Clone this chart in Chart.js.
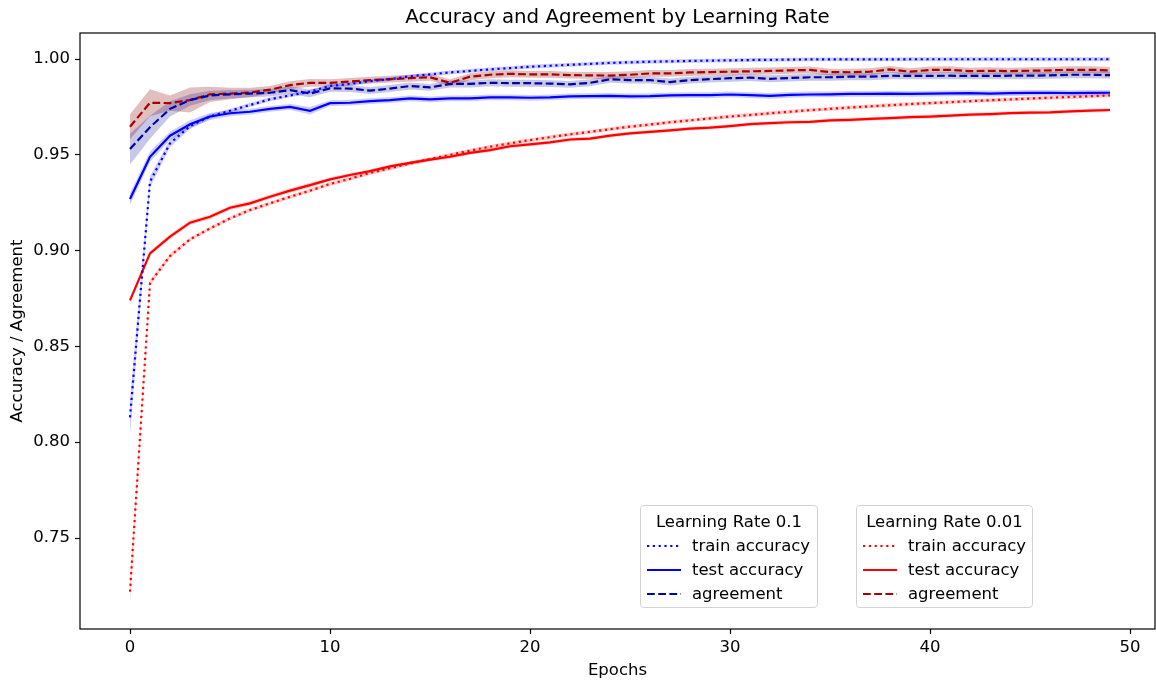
<!DOCTYPE html>
<html>
<head>
<meta charset="utf-8">
<script src="https://cdn.jsdelivr.net/npm/chart.js@4.4.1/dist/chart.umd.min.js"></script>
<style>
  body { margin: 0; background: #fff; font-family: "DejaVu Sans", sans-serif; }
  #wrap { position: relative; width: 1156px; height: 686px; }
  #title { position: absolute; left: 80px; width: 1075px; top: 6px; text-align: center; font-size: 19.8px; line-height: 22px; color: #000; }
  .lgbox { position: absolute; border: 1px solid #d3d3d3; border-radius: 4px; background: rgba(255,255,255,0.8); }
  .lgtitle { position: absolute; left: 0; right: 0; text-align: center; font-size: 16.5px; line-height: 20px; }
  .lgrow { position: absolute; font-size: 16.5px; line-height: 20px; white-space: nowrap; }
  .lgrow svg { position: absolute; }
</style>
</head>
<body>
<div id="wrap">
  <canvas id="accChart" width="1156" height="686"></canvas>
  <div id="title">Accuracy and Agreement by Learning Rate</div>
</div>
<script>
// x values and tick labels
const epochs = [0,1,2,3,4,5,6,7,8,9,10,11,12,13,14,15,16,17,18,19,20,21,22,23,24,25,26,27,28,29,30,31,32,33,34,35,36,37,38,39,40,41,42,43,44,45,46,47,48,49];
const xTicks = [0, 10, 20, 30, 40, 50];
const yTicks = [0.75, 0.80, 0.85, 0.90, 0.95, 1.00];

// learning rate 0.1
const lr01Train = [0.813,0.936,0.956,0.965,0.970,0.973,0.976,0.979,0.981,0.983,0.986,0.987,0.9885,0.9895,0.991,0.992,0.993,0.9938,0.9946,0.9953,
  0.996,0.9965,0.997,0.9975,0.998,0.9983,0.9986,0.9988,0.999,0.9992,0.9993,0.9995,0.9996,0.9997,0.9998,0.9998,0.9998,0.9998,0.9998,0.9999,
  0.9999,0.9999,0.9999,0.9999,0.9999,0.9999,0.9999,0.9999,0.9999,0.9999];
const lr01Test = [0.927,0.949,0.960,0.966,0.970,0.9717,0.9725,0.974,0.975,0.973,0.977,0.9772,0.978,0.9786,0.9795,0.979,0.9795,0.9795,0.980,0.980,
  0.9798,0.980,0.9805,0.9806,0.9808,0.9805,0.9806,0.981,0.9812,0.9812,0.9815,0.9812,0.9808,0.9813,0.9815,0.9816,0.9818,0.9818,0.982,0.9818,
  0.982,0.9821,0.9822,0.982,0.9822,0.9823,0.9824,0.9822,0.9823,0.9824];
const lr01Agree = [0.953,0.9644,0.974,0.9786,0.981,0.9816,0.982,0.9824,0.9838,0.982,0.9847,0.9846,0.9835,0.9846,0.9859,0.9852,0.987,0.987,0.9876,0.9874,
  0.9874,0.9872,0.9868,0.9876,0.9894,0.989,0.989,0.988,0.989,0.9895,0.990,0.9903,0.9897,0.9901,0.9905,0.9905,0.9908,0.9908,0.9913,0.9912,
  0.9912,0.9913,0.9912,0.9912,0.9913,0.9913,0.9915,0.9918,0.9918,0.9916];

// learning rate 0.01
const lr001Train = [0.722,0.8832,0.8972,0.9059,0.9116,0.9168,0.9212,0.9247,0.9281,0.9313,0.9348,0.9375,0.9405,0.943,0.9455,0.9478,0.950,0.9522,0.9542,0.956,
  0.9577,0.9592,0.9607,0.962,0.9634,0.9647,0.9658,0.967,0.968,0.969,0.970,0.9708,0.9717,0.9725,0.9733,0.974,0.9747,0.9753,0.9759,0.9765,
  0.977,0.9775,0.978,0.9785,0.9789,0.9794,0.9798,0.9802,0.9806,0.981];
const lr001Test = [0.874,0.8986,0.9073,0.9146,0.9177,0.9224,0.9247,0.9281,0.9313,0.9342,0.9372,0.9395,0.9415,0.944,0.9458,0.9475,0.949,0.951,0.9525,0.9545,
  0.9555,0.9565,0.958,0.9585,0.960,0.9612,0.962,0.9628,0.9637,0.9642,0.965,0.966,0.9666,0.967,0.9672,0.968,0.9683,0.9688,0.9692,0.9697,
  0.970,0.9705,0.971,0.9713,0.9718,0.972,0.9722,0.9727,0.9731,0.9734];
const lr001Agree = [0.9647,0.9772,0.977,0.9786,0.9816,0.982,0.9825,0.984,0.9864,0.9876,0.9876,0.9883,0.989,0.9895,0.990,0.9905,0.9876,0.9908,0.9918,0.9923,
  0.992,0.992,0.9916,0.9915,0.9914,0.9918,0.9925,0.9925,0.993,0.9932,0.9934,0.9936,0.9938,0.9941,0.9943,0.9932,0.9931,0.9934,0.9946,0.9934,
  0.9943,0.9944,0.9937,0.9939,0.9937,0.9939,0.9941,0.9944,0.9944,0.9941];

// half width of the shaded bands
const lr01TrainSd = [0.009,0.003,0.002,0.0015,0.0012,0.001,0.001,0.001,0.001,0.001,0.001,0.001,0.001,0.001,0.001,0.001,0.001,0.001,0.001,0.001,
  0.001,0.001,0.001,0.001,0.001,0.001,0.001,0.001,0.001,0.001,0.001,0.001,0.001,0.001,0.001,0.001,0.001,0.001,0.001,0.001,
  0.001,0.001,0.001,0.001,0.001,0.001,0.001,0.001,0.001,0.001];
const lr01TestSd = [0.003,0.0028,0.0022,0.002,0.0018,0.0016,0.0015,0.0015,0.0015,0.002,0.0015,0.0015,0.0015,0.0015,0.0015,0.0015,0.0015,0.0015,0.0015,0.0015,
  0.0015,0.0015,0.0015,0.0015,0.0015,0.0015,0.0015,0.0015,0.0015,0.0015,0.0015,0.0015,0.0015,0.0015,0.0015,0.0015,0.0015,0.0015,0.0015,0.0015,
  0.0015,0.0015,0.0015,0.0015,0.0015,0.0015,0.0015,0.0015,0.0015,0.0015];
const lr01AgreeSd = [0.008,0.006,0.004,0.003,0.0025,0.0022,0.002,0.002,0.002,0.002,0.0018,0.0018,0.0018,0.0018,0.0018,0.0018,0.0018,0.0018,0.0018,0.0018,
  0.0018,0.0018,0.0018,0.0018,0.0018,0.0018,0.0018,0.0018,0.0018,0.0018,0.0018,0.0018,0.0018,0.0018,0.0018,0.0018,0.0018,0.0018,0.0018,0.0018,
  0.0018,0.0018,0.0018,0.0018,0.0018,0.0018,0.0018,0.0018,0.0018,0.0018];
const lr001TrainSd = [0.006,0.0015,0.0012,0.001,0.001,0.001,0.001,0.001,0.001,0.001,0.001,0.001,0.001,0.001,0.001,0.001,0.001,0.001,0.001,0.001,
  0.001,0.001,0.001,0.001,0.001,0.001,0.001,0.001,0.001,0.001,0.001,0.001,0.001,0.001,0.001,0.001,0.001,0.001,0.001,0.001,
  0.001,0.001,0.001,0.001,0.001,0.001,0.001,0.001,0.001,0.001];
const lr001TestSd = [0.0012,0.0012,0.0012,0.0012,0.0012,0.0012,0.0012,0.0012,0.0012,0.0012,0.001,0.001,0.001,0.001,0.001,0.001,0.001,0.001,0.001,0.001,
  0.001,0.001,0.001,0.001,0.001,0.001,0.001,0.001,0.001,0.001,0.001,0.001,0.001,0.001,0.001,0.001,0.001,0.001,0.001,0.001,
  0.001,0.001,0.001,0.001,0.001,0.001,0.001,0.001,0.001,0.001];
const lr001AgreeSd = [0.0065,0.007,0.004,0.0065,0.004,0.003,0.0025,0.002,0.002,0.002,0.0018,0.0018,0.0018,0.0018,0.0018,0.0018,0.0018,0.0018,0.0018,0.0018,
  0.0018,0.0018,0.0018,0.0018,0.0018,0.0018,0.0018,0.0018,0.0018,0.0018,0.0018,0.0018,0.0018,0.0018,0.0018,0.0018,0.0018,0.0018,0.0018,0.0018,
  0.0018,0.0018,0.0018,0.0018,0.0018,0.0018,0.0018,0.0018,0.0018,0.0018];

const dotted = [2.2, 3.6];
const dashed = [7.8, 3.4];

const series = [
  { group: 0, label: 'train accuracy', mean: lr01Train, sd: lr01TrainSd, color: '#0000ff', band: 'rgba(0,0,255,0.2)', dash: dotted },
  { group: 0, label: 'test accuracy', mean: lr01Test, sd: lr01TestSd, color: '#0000ff', band: 'rgba(0,0,255,0.2)', dash: [] },
  { group: 0, label: 'agreement', mean: lr01Agree, sd: lr01AgreeSd, color: '#0000a8', band: 'rgba(0,0,139,0.22)', dash: dashed },
  { group: 1, label: 'train accuracy', mean: lr001Train, sd: lr001TrainSd, color: '#ff0000', band: 'rgba(255,0,0,0.2)', dash: dotted },
  { group: 1, label: 'test accuracy', mean: lr001Test, sd: lr001TestSd, color: '#ff0000', band: 'rgba(255,0,0,0.2)', dash: [] },
  { group: 1, label: 'agreement', mean: lr001Agree, sd: lr001AgreeSd, color: '#a80000', band: 'rgba(139,0,0,0.25)', dash: dashed }
];
const groupTitles = ['Learning Rate 0.1', 'Learning Rate 0.01'];

const toPoints = arr => epochs.map((e, i) => ({ x: e, y: arr[i] }));

const datasets = [];
series.forEach(s => {
  // band: lower edge then upper edge filled down to it
  datasets.push({
    label: s.label + ' lo', data: toPoints(s.mean.map((v, i) => v - s.sd[i])),
    borderWidth: 0, pointRadius: 0, fill: false, order: 2
  });
  datasets.push({
    label: s.label + ' hi', data: toPoints(s.mean.map((v, i) => v + s.sd[i])),
    borderWidth: 0, pointRadius: 0, fill: '-1', backgroundColor: s.band, order: 2
  });
});
series.forEach(s => {
  datasets.push({
    label: s.label, data: toPoints(s.mean),
    borderColor: s.color, borderWidth: 2.2, borderDash: s.dash,
    pointRadius: 0, fill: false, tension: 0, order: 1
  });
});

const framePlugin = {
  id: 'frame',
  afterDraw(chart) {
    const { ctx, chartArea: a } = chart;
    ctx.save();
    ctx.strokeStyle = '#000';
    ctx.lineWidth = 1.2;
    ctx.strokeRect(a.left, a.top, a.right - a.left, a.bottom - a.top);
    ctx.restore();
  }
};

const font = { family: '"DejaVu Sans", sans-serif', size: 16.5 };

new Chart(document.getElementById('accChart'), {
  type: 'line',
  data: { datasets: datasets },
  options: {
    responsive: false,
    animation: false,
    layout: { padding: { top: 33, right: 1, left: 0, bottom: 0 } },
    plugins: {
      legend: { display: false },
      tooltip: { enabled: false },
      title: { display: false }
    },
    scales: {
      x: {
        type: 'linear', min: -2.5, max: 51.25,
        afterFit: s => { s.height = 57; },
        afterBuildTicks: s => { s.ticks = xTicks.map(v => ({ value: v })); },
        ticks: { font: font, color: '#000', padding: 4, callback: v => String(v) },
        grid: { drawOnChartArea: false, drawTicks: true, tickLength: 5, tickColor: '#000', tickWidth: 1.2 },
        border: { display: false },
        title: { display: true, text: 'Epochs', font: font, color: '#000', padding: { top: 0, bottom: 5 } }
      },
      y: {
        min: 0.7025, max: 1.0136,
        afterFit: s => { s.width = 80; },
        afterBuildTicks: s => { s.ticks = yTicks.map(v => ({ value: v })); },
        ticks: { font: font, color: '#000', padding: 5, callback: v => v.toFixed(2) },
        grid: { drawOnChartArea: false, drawTicks: true, tickLength: 5, tickColor: '#000', tickWidth: 1.2 },
        border: { display: false },
        title: { display: true, text: 'Accuracy / Agreement', font: font, color: '#000', padding: { top: 8, bottom: 0 } }
      }
    }
  },
  plugins: [framePlugin]
});

// legend boxes, built from the series list
const wrap = document.getElementById('wrap');
const boxLefts = [640, 856];
groupTitles.forEach((t, g) => {
  const box = document.createElement('div');
  box.className = 'lgbox';
  box.style.left = boxLefts[g] + 'px';
  box.style.top = '505px';
  box.style.width = (g === 0 ? 176 : 175) + 'px';
  box.style.height = '101px';
  const title = document.createElement('div');
  title.className = 'lgtitle';
  title.style.top = '6px';
  title.textContent = t;
  box.appendChild(title);
  series.filter(s => s.group === g).forEach((s, k) => {
    const row = document.createElement('div');
    row.className = 'lgrow';
    row.style.left = '6px';
    row.style.top = (30 + k * 24) + 'px';
    const svg = document.createElementNS('http://www.w3.org/2000/svg', 'svg');
    svg.setAttribute('width', '34');
    svg.setAttribute('height', '20');
    svg.style.left = '0px';
    svg.style.top = '0px';
    const line = document.createElementNS('http://www.w3.org/2000/svg', 'line');
    line.setAttribute('x1', '0'); line.setAttribute('x2', '34');
    line.setAttribute('y1', '10'); line.setAttribute('y2', '10');
    line.setAttribute('stroke', s.color);
    line.setAttribute('stroke-width', '2.2');
    if (s.dash.length) line.setAttribute('stroke-dasharray', s.dash.join(' '));
    svg.appendChild(line);
    row.appendChild(svg);
    const span = document.createElement('span');
    span.style.marginLeft = '45px';
    span.textContent = s.label;
    row.appendChild(span);
    box.appendChild(row);
  });
  wrap.appendChild(box);
});
</script>
</body>
</html>
